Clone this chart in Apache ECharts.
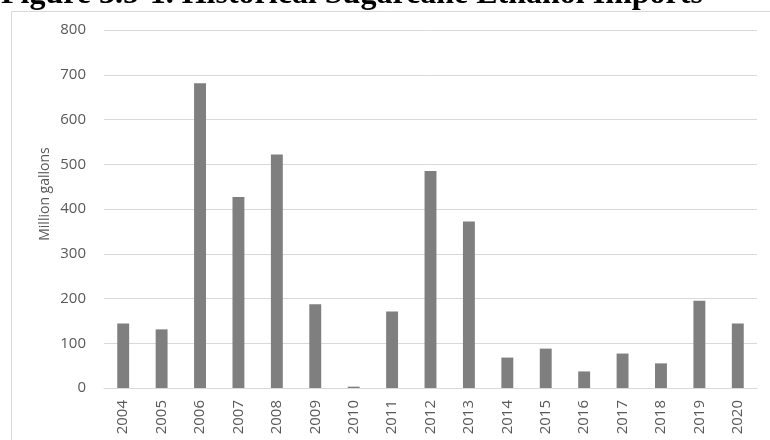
<!DOCTYPE html>
<html>
<head>
<meta charset="utf-8">
<script src="https://cdn.jsdelivr.net/npm/echarts@6/dist/echarts.min.js"></script>
<style>
html,body{margin:0;padding:0;background:#fff;}
#chart{width:770px;height:440px;}
</style>
</head>
<body>
<div id="chart"></div>
<script>
const titleText = 'Figure 3.5-1. Historical Sugarcane Ethanol Imports';
const yAxisName = 'Million gallons';
const years = ['2004','2005','2006','2007','2008','2009','2010','2011','2012','2013','2014','2015','2016','2017','2018','2019','2020'];
const imports = [144, 131, 681, 427, 522, 187, 3, 171, 485, 372, 68, 88, 37, 77, 55, 195, 144];

const chart = echarts.init(document.getElementById('chart'), null, {renderer:'canvas'});
chart.setOption({
  animation: false,
  backgroundColor: '#ffffff',
  graphic: [
    {type:'rect', shape:{x:11.5, y:11.5, width:770, height:440}, style:{fill:'none', stroke:'#d9d9d9', lineWidth:1}, z:-1},
    {type:'text', x:1, y:-5, style:{text:titleText, font:'bold 32px "Liberation Serif"', fill:'#000', verticalAlign:'middle'}},
    {type:'text', x:45, y:194, rotation:Math.PI/2, style:{text:yAxisName, font:'14px "Open Sans"', fill:'#595959', align:'center', verticalAlign:'middle'}}
  ],
  grid: {left:104, right:13, top:30, bottom:52},
  xAxis: {
    type:'category', data: years,
    axisLine:{show:true, lineStyle:{color:'#d9d9d9', width:1}},
    axisTick:{show:false},
    axisLabel:{rotate:90, margin:12, color:'#595959', fontSize:15, fontFamily:'Open Sans', interval:0}
  },
  yAxis: {
    type:'value', min:0, max:800, interval:100,
    axisLine:{show:false}, axisTick:{show:false},
    splitLine:{lineStyle:{color:'#d9d9d9', width:1}},
    axisLabel:{margin:18, color:'#595959', fontSize:15, fontFamily:'Open Sans'}
  },
  series: [{
    type:'bar', data: imports, barWidth:'31%',
    itemStyle:{color:'#7f7f7f'}
  }]
});
</script>
</body>
</html>
